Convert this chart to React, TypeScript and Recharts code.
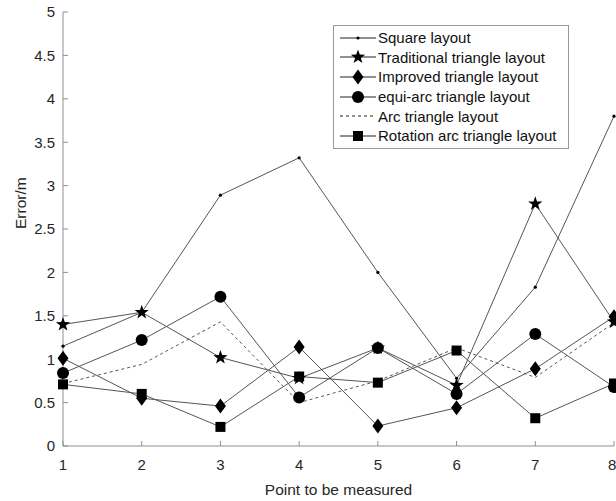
import { LineChart, Line, XAxis, YAxis } from 'recharts';

const points = [1, 2, 3, 4, 5, 6, 7, 8];
const squareLayout = [1.15, 1.54, 2.89, 3.32, 2.0, 0.78, 1.83, 3.8];
const traditionalTriangle = [1.4, 1.54, 1.02, 0.78, 1.13, 0.7, 2.79, 1.43];
const improvedTriangle = [1.01, 0.55, 0.46, 1.14, 0.23, 0.44, 0.89, 1.49];
const equiArcTriangle = [0.84, 1.22, 1.72, 0.56, 1.13, 0.6, 1.29, 0.68];
const arcTriangle = [0.72, 0.94, 1.43, 0.5, 0.75, 1.13, 0.79, 1.42];
const rotationArcTriangle = [0.71, 0.6, 0.22, 0.8, 0.73, 1.1, 0.32, 0.72];

const yTicks = [0, 0.5, 1, 1.5, 2, 2.5, 3, 3.5, 4, 4.5, 5];

const data = points.map((p, i) => ({
  point: p,
  square: squareLayout[i],
  traditional: traditionalTriangle[i],
  improved: improvedTriangle[i],
  equiArc: equiArcTriangle[i],
  arc: arcTriangle[i],
  rotation: rotationArcTriangle[i],
}));

type Shape = 'dot' | 'star' | 'diamond' | 'circle' | 'square' | 'none';

const series: { key: string; name: string; shape: Shape; dash?: string }[] = [
  { key: 'square', name: 'Square layout', shape: 'dot' },
  { key: 'traditional', name: 'Traditional triangle layout', shape: 'star' },
  { key: 'improved', name: 'Improved triangle layout', shape: 'diamond' },
  { key: 'equiArc', name: 'equi-arc triangle layout', shape: 'circle' },
  { key: 'arc', name: 'Arc triangle layout', shape: 'none', dash: '3 3' },
  { key: 'rotation', name: 'Rotation arc triangle layout', shape: 'square' },
];

const LINE = '#555';
const AXIS = '#8f8f8f';
const TEXT = '#262626';
const FONT = '"Liberation Sans", Arial, sans-serif';

const starPath = (cx: number, cy: number, R: number, r: number) => {
  let d = '';
  for (let i = 0; i < 10; i++) {
    const rad = i % 2 === 0 ? R : r;
    const a = -Math.PI / 2 + (i * Math.PI) / 5;
    d += (i === 0 ? 'M' : 'L') + (cx + rad * Math.cos(a)).toFixed(2) + ',' + (cy + rad * Math.sin(a)).toFixed(2);
  }
  return d + 'Z';
};

const Marker = ({ shape, cx, cy }: { shape: Shape; cx: number; cy: number }) => {
  switch (shape) {
    case 'dot':
      return <circle cx={cx} cy={cy} r={1.6} fill="#000" />;
    case 'star':
      return <path d={starPath(cx, cy, 7.5, 3)} fill="#000" />;
    case 'diamond':
      return <path d={`M${cx},${cy - 7.5}L${cx + 5.5},${cy}L${cx},${cy + 7.5}L${cx - 5.5},${cy}Z`} fill="#000" />;
    case 'circle':
      return <circle cx={cx} cy={cy} r={6} fill="#000" />;
    case 'square':
      return <rect x={cx - 5} y={cy - 5} width={10} height={10} fill="#000" />;
    default:
      return <g />;
  }
};

// legend drawn outside the chart so it doesn't shrink the plot area
const LegendBox = () => (
  <div
    style={{
      position: 'absolute',
      left: 333,
      top: 25,
      width: 234,
      border: '1.5px solid #999',
      background: '#fff',
      padding: '2px 0',
      fontFamily: FONT,
      fontSize: 15,
      color: '#111',
    }}
  >
    {series.map((s) => (
      <div key={s.key} style={{ display: 'flex', alignItems: 'center', height: 19.6 }}>
        <svg width={44} height={16} style={{ flex: 'none' }}>
          <line x1={6} y1={8} x2={42} y2={8} stroke="#222" strokeWidth={1} strokeDasharray={s.dash} />
          <Marker shape={s.shape} cx={24} cy={8} />
        </svg>
        <span style={{ whiteSpace: 'nowrap' }}>{s.name}</span>
      </div>
    ))}
  </div>
);

export default function App() {
  return (
    <div style={{ position: 'absolute', left: 0, top: 0, width: 616, height: 501, background: '#fff' }}>
      <LineChart width={616} height={501} data={data} margin={{ top: 12, right: 2, left: 0, bottom: 0 }}>
        <XAxis
          dataKey="point"
          type="number"
          domain={[1, 8]}
          ticks={points}
          height={55}
          stroke={AXIS}
          tickSize={-5}
          tickMargin={18}
          tick={{ fill: TEXT, fontSize: 15, fontFamily: FONT }}
          label={{ value: 'Point to be measured', position: 'insideBottom', offset: 6, fill: TEXT, fontSize: 15.5, fontFamily: FONT }}
        />
        <XAxis xAxisId="top" dataKey="point" type="number" domain={[1, 8]} ticks={points} orientation="top" height={0} stroke={AXIS} tickSize={-5} tick={false} />
        <YAxis
          type="number"
          domain={[0, 5]}
          ticks={yTicks}
          width={63}
          stroke={AXIS}
          tickSize={-5}
          tickMargin={13}
          tick={{ fill: TEXT, fontSize: 15, fontFamily: FONT }}
          label={{ value: 'Error/m', angle: -90, position: 'insideLeft', offset: 20, fill: TEXT, fontSize: 15.5, fontFamily: FONT }}
        />
        <YAxis yAxisId="right" type="number" domain={[0, 5]} ticks={yTicks} orientation="right" width={0} stroke={AXIS} tickSize={-5} tick={false} />
        {series.map((s) => (
          <Line
            key={s.key}
            dataKey={s.key}
            name={s.name}
            type="linear"
            stroke={LINE}
            strokeWidth={1}
            strokeDasharray={s.dash}
            isAnimationActive={false}
            dot={(p: any) => <Marker key={`${s.key}-${p.index}`} shape={s.shape} cx={p.cx} cy={p.cy} />}
            activeDot={false}
          />
        ))}
      </LineChart>
      <LegendBox />
    </div>
  );
}
